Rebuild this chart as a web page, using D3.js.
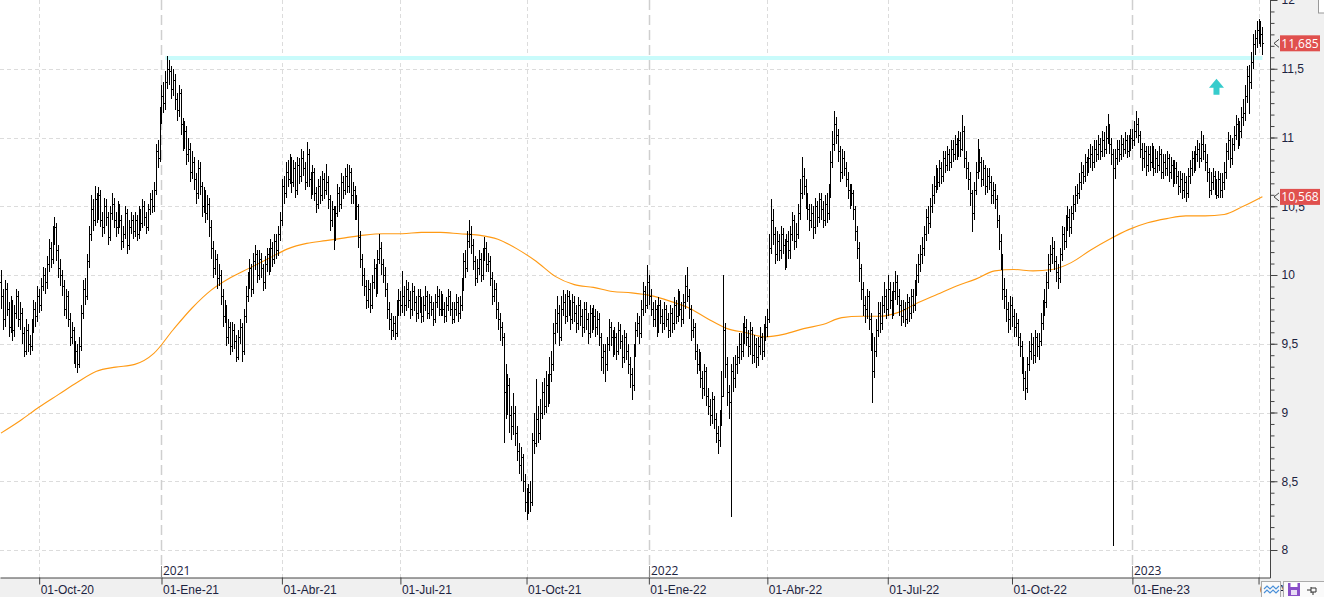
<!DOCTYPE html>
<html>
<head>
<meta charset="utf-8">
<script src="https://cdn.jsdelivr.net/npm/d3@7"></script>
<style>
  body { margin: 0; background: #fff; overflow: hidden; }
  svg { display: block; font-family: "Open Sans", "Noto Sans", sans-serif; }
</style>
</head>
<body>
<svg id="chart"></svg>
<script>
// daily bars, prices in euro cents (one value per session)
const closes = [
  985,968,990,975,962,978,960,972,985,968, 972,958,945,960,950,948,962,975,970,985,
  978,992,1000,995,1008,1020,1012,1030,1035,1018, 1005,1000,992,975,985,968,955,960,940,945,
  935,948,972,990,985,1010,1030,1048,1040,1055, 1045,1058,1040,1035,1050,1042,1028,1045,1052,1040,
  1035,1048,1040,1025,1030,1045,1022,1035,1040,1032, 1040,1030,1045,1038,1050,1042,1035,1048,1055,1050,
  1062,1090,1085,1115,1130,1125,1140,1150,1148,1135, 1142,1128,1120,1132,1110,1098,1105,1088,1092,1075,
  1082,1070,1060,1078,1065,1050,1058,1045,1052,1035, 1020,1005,1012,998,1000,985,970,975,955,962,
  948,960,952,940,955,962,945,970,985,995, 1005,990,1010,1015,1000,1012,1005,995,1008,1015,
  1005,1020,1012,1025,1018,1030,1040,1065,1060,1075, 1070,1082,1068,1078,1062,1080,1072,1085,1078,1068,
  1088,1070,1062,1075,1060,1052,1065,1058,1070,1062, 1068,1055,1040,1048,1030,1045,1060,1052,1068,1062,
  1072,1065,1075,1058,1062,1045,1050,1028,1012,1000, 992,982,990,978,995,1005,990,1012,1020,1008,
  1000,990,975,968,960,965,958,975,982,978, 985,978,990,982,975,988,980,972,985,978,
  970,978,985,972,980,975,968,980,985,975, 982,975,970,978,985,975,968,975,980,972,
  978,992,1010,1005,1025,1030,1022,1010,998,1005, 1012,1000,1015,1020,1008,1010,998,985,990,975,
  968,962,955,915,905,920,898,890,900,885, 872,862,868,850,835,830,842,835,880,878,
  895,885,900,915,905,920,910,928,935,958, 965,972,955,975,980,970,985,978,968,980,
  972,965,978,970,962,975,968,958,972,965, 970,962,968,955,940,945,935,950,962,955,
  948,955,945,960,952,940,955,945,935,928, 920,945,960,965,958,975,988,978,995,985,
  975,968,975,962,978,970,965,975,968,960, 972,965,978,970,985,975,968,980,992,985,
  975,960,962,945,935,940,925,918,930,912, 905,898,910,895,885,880,895,912,960,935,
  915,908,930,925,935,940,950,945,958,962, 955,948,960,942,950,940,948,955,945,958,
  962,968,1020,1040,1030,1015,1025,1018,1030,1022, 1010,1025,1018,1030,1040,1025,1030,1045,1060,1072,
  1065,1055,1048,1040,1045,1035,1050,1042,1055,1048, 1040,1052,1045,1060,1082,1095,1110,1102,1090,1075,
  1085,1078,1070,1062,1055,1060,1048,1032,1020,1005, 990,978,975,985,968,955,930,945,960,972,
  965,978,985,975,990,982,975,988,995,985, 978,970,975,968,980,972,985,978,990,1000,
  1008,1015,1020,1030,1042,1038,1050,1058,1065,1072, 1068,1078,1072,1085,1080,1088,1082,1092,1088,1095,
  1090,1098,1092,1105,1085,1078,1070,1060,1045,1062, 1075,1085,1082,1070,1078,1065,1072,1068,1058,1062,
  1055,1040,1025,1012,990,985,975,968,978,970, 962,965,955,948,935,925,918,935,945,950,
  942,955,948,952,965,975,980,995,1008,1015, 1020,1010,1002,998,1015,1030,1025,1038,1042,1035,
  1045,1052,1058,1060,1068,1075,1072,1082,1078,1085, 1088,1082,1092,1088,1095,1090,1098,1092,1100,1105,
  1095,1088,1078,1085,1092,1088,1095,1092,1098,1090, 1095,1100,1098,1105,1110,1102,1092,1085,1090,1080,
  1088,1082,1090,1078,1085,1080,1088,1075,1082,1078, 1085,1075,1080,1070,1078,1072,1065,1070,1062,1068,
  1060,1072,1078,1085,1080,1088,1092,1085,1095,1090, 1082,1075,1062,1068,1072,1065,1058,1070,1062,1068,
  1075,1090,1098,1085,1095,1102,1110,1098,1105,1115, 1118,1130,1145,1140,1155,1168,1172,1178,1182,1175,
  1168.5
];
const highs = [
  1004,990,996,994,980,985,982,978,990,988, 980,976,962,968,964,956,968,982,980,992,
  990,998,1006,1005,1014,1026,1024,1036,1042,1038, 1022,1012,1004,996,990,988,972,966,962,952,
  950,955,978,996,998,1015,1036,1058,1055,1065, 1060,1064,1062,1046,1056,1055,1046,1050,1060,1056,
  1046,1054,1052,1044,1036,1050,1048,1040,1046,1044, 1046,1044,1050,1048,1055,1054,1046,1052,1060,1062,
  1068,1095,1098,1122,1138,1140,1148,1159,1156,1152, 1150,1146,1132,1138,1135,1114,1112,1108,1100,1096,
  1090,1086,1074,1084,1082,1068,1064,1062,1058,1056, 1040,1025,1018,1015,1008,1004,990,982,978,968,
  966,966,964,956,960,968,965,975,992,1002, 1012,1008,1016,1022,1018,1018,1016,1008,1014,1020,
  1020,1026,1024,1030,1030,1036,1046,1070,1072,1082, 1084,1088,1086,1084,1082,1086,1085,1092,1090,1082,
  1097,1092,1075,1080,1078,1064,1070,1072,1076,1074, 1081,1072,1058,1054,1050,1050,1066,1064,1074,1072,
  1078,1081,1080,1078,1068,1065,1058,1052,1032,1015, 1005,996,996,994,1000,1012,1008,1018,1030,1024,
  1012,1006,994,980,972,970,970,982,990,988, 1003,992,996,995,988,994,992,985,990,990,
  984,985,992,988,986,985,980,986,992,990, 988,986,980,984,990,988,980,980,986,984,
  985,998,1016,1018,1032,1040,1036,1026,1014,1012, 1018,1016,1020,1028,1024,1016,1014,1002,996,994,
  980,972,966,958,935,928,925,905,914,905, 890,878,875,870,855,845,848,850,885,900,
  924,905,910,922,925,930,928,940,945,965, 975,985,978,985,989,986,989,988,982,986,
  985,978,984,982,975,980,980,972,978,976, 978,975,974,972,958,950,950,955,968,966,
  960,962,958,966,964,956,960,958,950,940, 932,950,966,972,970,982,995,992,1007,1000,
  990,980,982,978,984,982,975,980,978,972, 978,976,984,982,990,988,980,986,1000,1006,
  990,978,968,965,950,946,944,930,935,933, 918,910,915,912,900,890,902,930,1000,965,
  940,920,935,940,942,948,958,958,965,970, 968,960,966,962,956,954,955,962,958,964,
  970,975,1030,1055,1048,1035,1032,1030,1036,1034, 1026,1030,1032,1036,1046,1044,1038,1052,1070,1086,
  1078,1070,1060,1052,1052,1050,1056,1054,1060,1060, 1054,1058,1060,1066,1090,1105,1119,1115,1106,1094,
  1092,1090,1082,1075,1066,1066,1062,1050,1036,1024, 1008,995,985,990,988,972,958,955,968,980,
  980,985,995,990,1000,995,988,995,1003,1000, 990,982,982,980,986,984,990,990,996,1008,
  1015,1022,1028,1036,1048,1050,1056,1066,1072,1080, 1078,1084,1082,1090,1090,1094,1092,1098,1098,1102,
  1100,1105,1104,1116,1108,1090,1082,1075,1062,1068, 1082,1099,1092,1086,1084,1080,1078,1078,1072,1068,
  1066,1058,1044,1030,1015,998,990,980,985,984, 975,972,968,958,952,940,930,940,952,958,
  955,960,958,958,972,982,990,1002,1015,1022, 1028,1025,1014,1008,1020,1036,1035,1044,1050,1048,
  1050,1058,1065,1066,1074,1082,1080,1088,1086,1092, 1095,1094,1098,1098,1102,1100,1105,1104,1108,1117,
  1110,1100,1092,1092,1098,1098,1102,1100,1104,1102, 1102,1106,1106,1112,1119,1114,1105,1096,1096,1094,
  1094,1094,1096,1094,1092,1090,1094,1092,1088,1088, 1090,1088,1086,1084,1084,1082,1076,1076,1074,1074,
  1072,1078,1084,1090,1090,1094,1098,1096,1105,1102, 1095,1088,1078,1075,1078,1076,1070,1076,1074,1074,
  1082,1096,1104,1102,1100,1108,1116,1114,1112,1122, 1128,1138,1152,1153,1162,1175,1178,1185,1186,1185,
  1180
];
const lows = [
  975,960,962,970,955,958,952,955,968,962, 960,950,940,942,944,942,945,958,962,966,
  972,974,988,986,990,1002,1005,1008,1022,1010, 998,992,985,970,968,962,948,950,935,932,
  929,932,945,968,978,982,1005,1025,1032,1036, 1038,1040,1035,1028,1030,1036,1022,1025,1040,1034,
  1028,1030,1034,1018,1020,1026,1015,1018,1030,1026, 1028,1025,1026,1032,1034,1036,1030,1032,1044,1045,
  1046,1058,1078,1082,1110,1118,1120,1135,1138,1128, 1130,1120,1112,1115,1102,1090,1092,1080,1082,1068,
  1070,1062,1052,1055,1058,1042,1045,1038,1040,1028, 1012,998,1000,990,992,978,962,965,948,950,
  942,944,946,937,938,950,937,942,965,980, 990,984,986,1004,994,996,998,988,990,1002,
  1000,1002,1006,1008,1012,1014,1025,1036,1052,1056, 1064,1066,1060,1064,1056,1058,1066,1068,1072,1062,
  1064,1064,1055,1058,1054,1045,1048,1052,1054,1055, 1058,1048,1032,1035,1018,1025,1042,1046,1048,1055,
  1058,1060,1060,1052,1052,1040,1040,1020,1005,992, 985,975,976,972,975,990,984,986,1008,1000,
  994,984,968,960,953,955,953,955,970,970, 972,970,974,976,968,970,974,966,968,972,
  965,966,974,968,968,970,963,965,976,970, 970,970,965,966,974,970,964,965,970,966,
  968,974,988,998,1002,1020,1015,1004,992,994, 1000,995,996,1010,1002,1002,992,978,980,968,
  960,952,948,878,895,898,885,880,884,876, 865,855,850,842,828,822,826,828,832,870,
  875,878,880,895,898,900,904,906,922,930, 950,958,948,952,970,964,966,970,960,964,
  966,958,960,963,955,958,960,950,954,958, 960,955,956,948,930,928,922,930,945,948,
  940,942,938,942,946,932,936,938,928,918, 909,916,940,955,950,954,970,972,975,978,
  970,962,962,955,958,964,958,960,962,954, 955,958,960,964,966,970,962,964,975,980,
  968,952,954,938,928,930,918,910,912,905, 898,890,892,888,878,870,875,890,930,925,
  905,895,824,915,918,928,935,938,940,950, 948,940,942,935,936,932,934,942,938,940,
  952,955,965,1015,1022,1008,1010,1010,1012,1015, 1004,1005,1012,1012,1025,1018,1020,1026,1040,1055,
  1058,1048,1040,1032,1034,1026,1030,1035,1038,1040, 1034,1036,1038,1040,1056,1078,1090,1095,1082,1068,
  1070,1072,1064,1055,1048,1050,1040,1025,1012,995, 982,970,965,968,960,945,907,925,940,955,
  958,960,972,968,970,975,968,970,982,978, 970,963,965,962,964,966,968,972,974,985,
  994,1002,1008,1014,1025,1030,1034,1045,1052,1060, 1062,1064,1066,1068,1074,1076,1076,1078,1082,1084,
  1084,1086,1086,1090,1078,1070,1062,1050,1031,1040, 1058,1070,1075,1064,1065,1058,1060,1062,1052,1052,
  1048,1034,1018,1004,982,975,966,958,960,962, 955,955,948,940,928,916,909,914,930,938,
  935,936,940,938,948,960,970,976,990,1002, 1008,1004,995,990,994,1010,1018,1020,1032,1028,
  1030,1040,1046,1052,1055,1062,1066,1068,1072,1074, 1078,1076,1078,1082,1084,1084,1086,1086,1088,1095,
  1088,1080,803,1070,1080,1082,1084,1086,1088,1085, 1086,1090,1092,1094,1100,1096,1085,1076,1078,1072,
  1075,1076,1078,1072,1074,1074,1076,1070,1070,1072, 1072,1068,1070,1064,1066,1066,1058,1060,1055,1056,
  1053,1056,1066,1072,1074,1076,1082,1078,1082,1084, 1076,1068,1056,1058,1062,1058,1055,1056,1056,1056,
  1062,1070,1084,1078,1080,1090,1098,1092,1094,1100, 1108,1112,1125,1117,1135,1150,1160,1165,1168,1166,
  1160
];
const firstOpen = 995;

// 200-session moving average, one reading every 10 sessions
const maStep = 10;
const maValues = [
  8.85, 8.94, 9.04, 9.13, 9.22, 9.30, 9.33, 9.35, 9.43, 9.60,
  9.76, 9.89, 9.98, 10.05, 10.12, 10.19, 10.23, 10.25, 10.27, 10.29,
  10.30, 10.30, 10.31, 10.31, 10.30, 10.29, 10.26, 10.19, 10.10, 9.99,
  9.93, 9.91, 9.88, 9.87, 9.85, 9.81, 9.76, 9.68, 9.61, 9.58,
  9.55, 9.57, 9.61, 9.64, 9.69, 9.70, 9.70, 9.73, 9.80, 9.86,
  9.92, 9.97, 10.03, 10.04, 10.03, 10.04, 10.09, 10.18, 10.26, 10.33,
  10.38, 10.41, 10.43, 10.43, 10.44, 10.50, 10.57
];

// time axis (session index of each labelled date)
const tickIdx = [20, 84, 147, 209, 275, 339, 401, 464, 529, 592, 658];
const tickLabels = ["01-Oct-20", "01-Ene-21", "01-Abr-21", "01-Jul-21", "01-Oct-21",
  "01-Ene-22", "01-Abr-22", "01-Jul-22", "01-Oct-22", "01-Ene-23", "01-Abr-23"];
const yearIdx = [84, 339, 592];
const yearLabels = ["2021", "2022", "2023"];

const priceTicks = [8, 8.5, 9, 9.5, 10, 10.5, 11, 11.5, 12];
const resistanceFrom = 86, resistanceTo = 660, resistancePrice = 11.578;
const signalIdx = [636], signalPrice = [11.37];
const lastPrice = 11.685, lastMa = 10.568;

const W = 1324, H = 597;
const plotR = 1271, plotB = 578;

const svg = d3.select("#chart").attr("width", W).attr("height", H);

const x = d3.scaleLinear().domain([-0.5, 664]).range([0, plotR - 1]);
const y = d3.scaleLinear().domain([8, 12]).range([550, 0]);
const fmt = v => String(v).replace(".", ",");

// backgrounds
svg.append("rect").attr("x", 0).attr("y", 0).attr("width", W).attr("height", H).attr("fill", "#f0f0f0");
svg.append("rect").attr("x", 0).attr("y", 0).attr("width", plotR).attr("height", plotB).attr("fill", "#fff");

svg.append("defs").append("clipPath").attr("id", "plot")
  .append("rect").attr("width", plotR).attr("height", plotB);
const g = svg.append("g").attr("clip-path", "url(#plot)");

// grid
g.selectAll(".hgrid").data(priceTicks.filter(v => v < 12)).enter().append("line")
  .attr("x1", 0).attr("x2", plotR)
  .attr("y1", d => Math.round(y(d)) + 0.5).attr("y2", d => Math.round(y(d)) + 0.5)
  .attr("stroke", "#dcdcdc").attr("stroke-dasharray", "4,3");

g.selectAll(".vgrid").data(tickIdx.filter(i => !yearIdx.includes(i))).enter().append("line")
  .attr("x1", d => Math.round(x(d)) + 0.5).attr("x2", d => Math.round(x(d)) + 0.5)
  .attr("y1", 0).attr("y2", plotB)
  .attr("stroke", "#dcdcdc").attr("stroke-dasharray", "4,3");

g.selectAll(".ygrid").data(yearIdx).enter().append("line")
  .attr("x1", d => Math.round(x(d)) + 0.5).attr("x2", d => Math.round(x(d)) + 0.5)
  .attr("y1", 0).attr("y2", plotB)
  .attr("stroke", "#cfcfcf").attr("stroke-width", 1.5).attr("stroke-dasharray", "10,5");

// resistance line
g.append("line")
  .attr("x1", x(resistanceFrom)).attr("x2", x(resistanceTo))
  .attr("y1", y(resistancePrice)).attr("y2", y(resistancePrice))
  .attr("stroke", "#c9fbfb").attr("stroke-width", 4);

// moving average
const maPts = maValues.map((v, k) => [k * maStep, v]);
g.append("path")
  .attr("d", d3.line().x(d => x(d[0])).y(d => y(d[1])).curve(d3.curveMonotoneX)(maPts))
  .attr("fill", "none").attr("stroke", "#ff9a14").attr("stroke-width", 1.1);

// OHLC bars
const n = Math.min(closes.length, highs.length, lows.length);
let d = "";
for (let i = 0; i < n; i++) {
  const o = (i ? closes[i - 1] : firstOpen) / 100, c = closes[i] / 100;
  const hi = Math.max(highs[i] / 100, o, c), lo = Math.min(lows[i] / 100, o, c);
  const px = Math.round(x(i)) + 0.5;
  const yo = Math.round(y(o)) + 0.5, yc = Math.round(y(c)) + 0.5;
  d += `M${px},${Math.round(y(hi))}V${Math.round(y(lo))}M${px - 1.5},${yo}H${px}M${px},${yc}H${px + 1.5}`;
}
g.append("path").attr("d", d).attr("fill", "none").attr("stroke", "#000")
  .attr("stroke-width", 1).attr("shape-rendering", "crispEdges");

// signal arrow
signalIdx.forEach((si, k) => {
  const cx = x(si), cy = y(signalPrice[k]);
  g.append("path")
    .attr("d", `M${cx},${cy - 8}L${cx + 7.5},${cy + 1}H${cx + 3}V${cy + 8}H${cx - 3}V${cy + 1}H${cx - 7.5}Z`)
    .attr("fill", "#36cccc");
});

// right price axis
const axR = svg.append("g").attr("transform", `translate(${plotR - 0.5},0)`)
  .call(d3.axisRight(y).tickValues(priceTicks).tickFormat(fmt).tickSize(7).tickSizeOuter(0).tickPadding(4));
axR.select(".domain").remove();
axR.selectAll("line").attr("stroke", "#444");
axR.selectAll("text").attr("fill", "#1c2340").style("font-size", "12px");
const minor = d3.range(8, 12.001, 0.5 / 6);
const axM = svg.append("g").attr("transform", `translate(${plotR - 0.5},0)`)
  .call(d3.axisRight(y).tickValues(minor).tickFormat("").tickSize(4).tickSizeOuter(0));
axM.select(".domain").remove();
axM.selectAll("line").attr("stroke", "#444");
svg.append("line").attr("x1", plotR - 0.5).attr("x2", plotR - 0.5).attr("y1", 0).attr("y2", plotB)
  .attr("stroke", "#444");

// bottom time axis
const axB = svg.append("g").attr("transform", `translate(0,${plotB - 0.5})`)
  .call(d3.axisBottom(x).tickValues(tickIdx).tickFormat((v, k) => tickLabels[k]).tickSize(7).tickSizeOuter(0));
axB.select(".domain").attr("stroke", "#444");
axB.selectAll("line").attr("stroke", "#444");
axB.selectAll("text").attr("fill", "#1c2340").style("font-size", "12px")
  .attr("text-anchor", "start").attr("x", 1).attr("y", 16).attr("dy", 0);

// year markers
yearIdx.forEach((yi, k) => {
  const px = Math.round(x(yi)) + 0.5;
  svg.append("line").attr("x1", px).attr("x2", px).attr("y1", 566).attr("y2", plotB)
    .attr("stroke", "#888");
  svg.append("text").attr("x", px + 1.5).attr("y", 575).text(yearLabels[k])
    .attr("fill", "#1c2340").style("font-size", "12px");
});

// price labels on the right axis
[[lastPrice, "11,685"], [lastMa, "10,568"]].forEach(([v, t]) => {
  const cy = y(v);
  svg.append("rect").attr("x", 1280).attr("y", cy - 8).attr("width", 40).attr("height", 16)
    .attr("fill", "#e0504e");
  svg.append("text").attr("x", 1300).attr("y", cy + 4.5).attr("text-anchor", "middle")
    .text(t).attr("fill", "#fff").style("font-size", "12px");
  svg.append("path").attr("d", `M1279,${cy - 4}L1274,${cy}L1279,${cy + 4}`)
    .attr("fill", "none").attr("stroke", "#444");
});

// small widgets in the corners
svg.append("rect").attr("x", 1318.5).attr("y", -1).attr("width", 8).attr("height", 14)
  .attr("fill", "#fff").attr("stroke", "#999");
svg.append("rect").attr("x", 1261.5).attr("y", 581.5).attr("width", 19).attr("height", 17)
  .attr("fill", "#fafafa").attr("stroke", "#aaa");
svg.append("path").attr("d", "M1264,589l3,-3l3,3l3,-3l3,3l3,-3M1264,593l3,-3l3,3l3,-3l3,3l3,-3")
  .attr("fill", "none").attr("stroke", "#4a90d9").attr("stroke-width", 1.2);
svg.append("rect").attr("x", 1283.5).attr("y", 581.5).attr("width", 41).attr("height", 17)
  .attr("fill", "#fafafa").attr("stroke", "#aaa");
svg.append("rect").attr("x", 1288).attr("y", 583).attr("width", 12).attr("height", 13).attr("fill", "#8a4fc8");
svg.append("rect").attr("x", 1290.5).attr("y", 583).attr("width", 7).attr("height", 4).attr("fill", "#fff");
svg.append("rect").attr("x", 1291).attr("y", 590).attr("width", 6).attr("height", 5).attr("fill", "#e8dcf5");
svg.append("path").attr("d", "M1307,590H1311M1311,587V593M1311,588H1316V592H1311M1313,592V595")
  .attr("fill", "none").attr("stroke", "#333");
</script>
</body>
</html>
